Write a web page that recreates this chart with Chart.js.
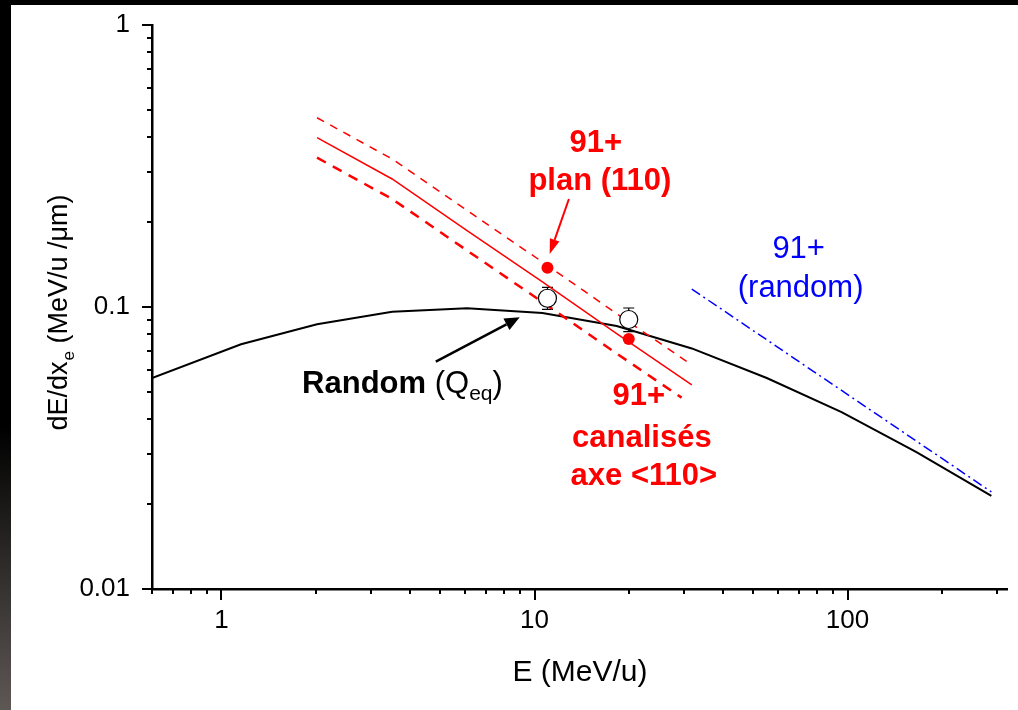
<!DOCTYPE html>
<html><head><meta charset="utf-8">
<script src="https://cdn.jsdelivr.net/npm/chart.js@4.4.1/dist/chart.umd.min.js"></script>
<style>
html,body{margin:0;padding:0;background:#fff;}
body{width:1018px;height:710px;position:relative;overflow:hidden;}
#topband{position:absolute;left:0;top:0;width:1018px;height:5px;background:#000;}
#leftband{position:absolute;left:0;top:0;width:11px;height:710px;background:linear-gradient(to bottom,#000 0%,#000 60%,#5e5855 100%);}
#c{position:absolute;left:0;top:0;}
</style></head><body>
<div id="topband"></div><div id="leftband"></div>
<canvas id="c" width="1018" height="710"></canvas>
<script>
// ---------- data ----------
const energyGrid = [0.6, 1.155, 2.02, 3.51, 6.09, 10.6, 18.3, 31.8, 55.2, 95.7, 166, 288];
const randomQeq  = [0.0560, 0.0738, 0.0868, 0.0962, 0.0989, 0.0952, 0.0856, 0.0713, 0.0560, 0.0424, 0.0306, 0.0214];

const channelE      = [2.02, 3.51, 6.09, 10.6, 18.3, 31.8];
const channelMid    = [0.3985, 0.2844, 0.1867, 0.1227, 0.0805, 0.0529];
const channelUpper  = [0.469, 0.3348, 0.2199, 0.1444, 0.0947, 0.0623];
const channelLowerE = [2.02, 3.51, 6.09, 10.6, 18.3, 29.5];
const channelLower  = [0.3384, 0.2415, 0.1586, 0.1041, 0.0684, 0.0477];

const randomTheoryE = [31.8, 288];
const randomTheory  = [0.1158, 0.0221];

const expE          = [11, 20];
const planarExp     = [0.1378, 0.0770];
const randomExp     = [0.1074, 0.0903];
const randomExpHigh = [0.1174, 0.0992];
const randomExpLow  = [0.0981, 0.0818];

const xTickValues = [1, 10, 100];
const xTickLabels = ['1', '10', '100'];
const yTickValues = [0.01, 0.1, 1];
const yTickLabels = ['0.01', '0.1', '1'];

const xTitle = 'E (MeV/u)';
const yTitleMain = 'dE/dx';
const yTitleSub = 'e';
const yTitleRest = ' (MeV/u /\u03bcm)';

// annotation anchors (data units: E, dE/dx)
const arrowBlack = [[4.84, 0.0640], [8.97, 0.0919]];
const arrowRed   = [[12.88, 0.2415], [11.18, 0.1542]];

// ---------- helpers ----------
const FAM = '"Liberation Sans", Arial, sans-serif';
Chart.defaults.font.family = FAM;
const pts = (xs, ys) => xs.map((v, i) => ({x: v, y: ys[i]}));
const RED = '#ff0000', BLUE = '#0000ff';

const annotations = [
  {x: 15.71, y: 0.3554, align: 'center', runs: [{t: '91+', f: 'bold 31px', c: RED}]},
  {x: 16.18, y: 0.2600, align: 'center', runs: [{t: 'plan (110)', f: 'bold 31px', c: RED}]},
  {x: 21.54, y: 0.04493, align: 'center', runs: [{t: '91+', f: 'bold 31px', c: RED}]},
  {x: 22.02, y: 0.03196, align: 'center', runs: [{t: 'canalis\u00e9s', f: 'bold 31px', c: RED}]},
  {x: 22.35, y: 0.02337, align: 'center', runs: [{t: 'axe <110>', f: 'bold 31px', c: RED}]},
  {x: 69.8, y: 0.1489, align: 'center', runs: [{t: '91+', f: '31px', c: BLUE}]},
  {x: 70.8, y: 0.1082, align: 'center', runs: [{t: '(random)', f: '31px', c: BLUE}]},
  {x: 1.81, y: 0.04943, align: 'left', runs: [
    {t: 'Random', f: 'bold 31px', c: '#000'},
    {t: ' (Q', f: '31px', c: '#000'},
    {t: 'eq', f: '21px', c: '#000', dy: 7},
    {t: ')', f: '31px', c: '#000'}
  ]}
];

function drawArrow(ctx, x0, y0, x1, y1, color, lw, hl, hw) {
  const ang = Math.atan2(y1 - y0, x1 - x0);
  const bx = x1 - Math.cos(ang) * hl, by = y1 - Math.sin(ang) * hl;
  ctx.save();
  ctx.strokeStyle = color; ctx.fillStyle = color; ctx.lineWidth = lw;
  ctx.beginPath(); ctx.moveTo(x0, y0); ctx.lineTo(bx, by); ctx.stroke();
  const nx = -Math.sin(ang), ny = Math.cos(ang);
  ctx.beginPath();
  ctx.moveTo(x1, y1);
  ctx.lineTo(bx + nx * hw / 2, by + ny * hw / 2);
  ctx.lineTo(bx - nx * hw / 2, by - ny * hw / 2);
  ctx.closePath(); ctx.fill();
  ctx.restore();
}

const deco = {
  id: 'deco',
  beforeDatasetsDraw(chart) {
    const {ctx, scales: {x, y}} = chart;
    ctx.save();
    ctx.strokeStyle = '#000'; ctx.lineWidth = 1.2;
    expE.forEach((e, i) => {
      const px = x.getPixelForValue(e);
      const pt = y.getPixelForValue(randomExpHigh[i]);
      const pb = y.getPixelForValue(randomExpLow[i]);
      ctx.beginPath();
      ctx.moveTo(px, pt); ctx.lineTo(px, pb);
      ctx.moveTo(px - 5.5, pt); ctx.lineTo(px + 5.5, pt);
      ctx.moveTo(px - 5.5, pb); ctx.lineTo(px + 5.5, pb);
      ctx.stroke();
    });
    ctx.restore();
  },
  afterDraw(chart) {
    const {ctx, chartArea: b, scales: {x, y}} = chart;
    ctx.save();
    // tick marks
    ctx.strokeStyle = '#000'; ctx.lineWidth = 2;
    [0.1, 1, 10, 100].forEach(d => {
      for (let m = 1; m <= 9; m++) {
        const v = m * d;
        if (v < x.min * 0.999 || v > x.max * 1.001) continue;
        const px = Math.round(x.getPixelForValue(v));
        const len = m === 1 ? 11 : 5;
        ctx.beginPath(); ctx.moveTo(px, b.bottom); ctx.lineTo(px, b.bottom + len); ctx.stroke();
      }
    });
    [0.01, 0.1, 1].forEach(d => {
      for (let m = 1; m <= 9; m++) {
        const v = m * d;
        if (v < y.min * 0.999 || v > y.max * 1.001) continue;
        const py = Math.round(y.getPixelForValue(v));
        const len = m === 1 ? 10 : 5;
        ctx.beginPath(); ctx.moveTo(b.left, py); ctx.lineTo(b.left - len, py); ctx.stroke();
      }
    });
    // axis titles
    ctx.fillStyle = '#000';
    ctx.font = '30px ' + FAM;
    ctx.textAlign = 'center'; ctx.textBaseline = 'alphabetic';
    ctx.fillText(xTitle, (b.left + b.right) / 2, b.bottom + 92);
    ctx.textAlign = 'left';
    ctx.font = '27px ' + FAM; const w1 = ctx.measureText(yTitleMain).width;
    const w3 = ctx.measureText(yTitleRest).width;
    ctx.font = '17px ' + FAM; const w2 = ctx.measureText(yTitleSub).width;
    const tot = w1 + w2 + w3;
    ctx.save();
    ctx.translate(b.left - 85, (b.top + b.bottom) / 2 + 6 + tot / 2);
    ctx.rotate(-Math.PI / 2);
    ctx.font = '27px ' + FAM; ctx.fillText(yTitleMain, 0, 0);
    ctx.font = '17px ' + FAM; ctx.fillText(yTitleSub, w1 + 1, 7);
    ctx.font = '27px ' + FAM; ctx.fillText(yTitleRest, w1 + w2 + 1, 0);
    ctx.restore();
    // annotations
    annotations.forEach(a => {
      let tot = 0;
      a.runs.forEach(r => { ctx.font = r.f + ' ' + FAM; r.w = ctx.measureText(r.t).width; tot += r.w; });
      let cx = x.getPixelForValue(a.x);
      const cy = y.getPixelForValue(a.y);
      if (a.align === 'center') cx -= tot / 2;
      ctx.textAlign = 'left';
      a.runs.forEach(r => {
        ctx.font = r.f + ' ' + FAM; ctx.fillStyle = r.c;
        ctx.fillText(r.t, cx, cy + (r.dy || 0));
        cx += r.w;
      });
    });
    // arrows
    drawArrow(ctx, x.getPixelForValue(arrowBlack[0][0]), y.getPixelForValue(arrowBlack[0][1]),
      x.getPixelForValue(arrowBlack[1][0]), y.getPixelForValue(arrowBlack[1][1]), '#000', 2.5, 15, 13);
    drawArrow(ctx, x.getPixelForValue(arrowRed[0][0]), y.getPixelForValue(arrowRed[0][1]),
      x.getPixelForValue(arrowRed[1][0]), y.getPixelForValue(arrowRed[1][1]), RED, 2, 15, 10);
    ctx.restore();
  }
};

new Chart(document.getElementById('c'), {
  type: 'line',
  data: {
    datasets: [
      {data: pts(expE, planarExp), showLine: false, pointRadius: 6, pointBackgroundColor: RED, pointBorderColor: RED, pointBorderWidth: 0},
      {data: pts(expE, randomExp), showLine: false, pointRadius: 9, pointBackgroundColor: '#fff', pointBorderColor: '#000', pointBorderWidth: 1.2},
      {data: pts(randomTheoryE, randomTheory), borderColor: BLUE, borderWidth: 1.5, borderDash: [10, 4, 2, 4], pointRadius: 0},
      {data: pts(channelLowerE, channelLower), borderColor: RED, borderWidth: 2.5, borderDash: [10, 8], pointRadius: 0},
      {data: pts(channelE, channelUpper), borderColor: RED, borderWidth: 1.5, borderDash: [8, 7], pointRadius: 0},
      {data: pts(channelE, channelMid), borderColor: RED, borderWidth: 1.5, pointRadius: 0},
      {data: pts(energyGrid, randomQeq), borderColor: '#000', borderWidth: 2, pointRadius: 0}
    ]
  },
  options: {
    responsive: false,
    devicePixelRatio: 1,
    animation: false,
    events: [],
    layout: {padding: {top: 25, right: 8, left: 0, bottom: 0}},
    elements: {line: {tension: 0, fill: false, borderCapStyle: 'butt'}},
    plugins: {legend: {display: false}, tooltip: {enabled: false}, title: {display: false}},
    scales: {
      x: {
        type: 'logarithmic', min: 0.6, max: 325, position: 'bottom',
        afterFit(s) { s.height = 121; s.paddingLeft = 0; s.paddingRight = 0; },
        afterBuildTicks(s) { s.ticks = xTickValues.map(v => ({value: v})); },
        ticks: {autoSkip: false, maxRotation: 0, padding: 16, color: '#000', font: {size: 26},
          callback: v => { const i = xTickValues.indexOf(v); return i >= 0 ? xTickLabels[i] : ''; }},
        grid: {display: true, drawOnChartArea: false, drawTicks: false},
        border: {display: true, color: '#000', width: 2.5}
      },
      y: {
        type: 'logarithmic', min: 0.01, max: 1, position: 'left',
        afterFit(s) { s.width = 152; s.paddingTop = 0; s.paddingBottom = 0; },
        afterBuildTicks(s) { s.ticks = yTickValues.map(v => ({value: v})); },
        ticks: {autoSkip: false, padding: 22, color: '#000', font: {size: 26},
          callback: v => { const i = yTickValues.indexOf(v); return i >= 0 ? yTickLabels[i] : ''; }},
        grid: {display: true, drawOnChartArea: false, drawTicks: false},
        border: {display: true, color: '#000', width: 2.5}
      }
    }
  },
  plugins: [deco]
});
</script></body></html>
